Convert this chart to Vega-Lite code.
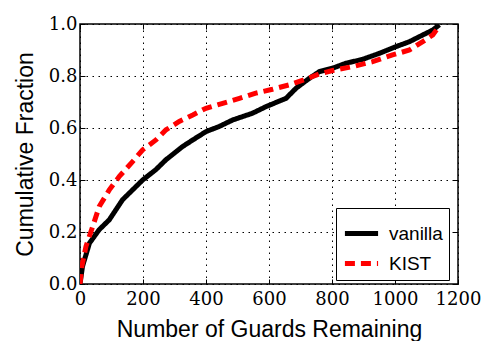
{
  "$schema": "https://vega.github.io/schema/vega-lite/v6.json",
  "width": 378,
  "height": 260,
  "autosize": "none",
  "padding": {"left": 80, "top": 24, "right": 24, "bottom": 57},
  "background": "white",
  "config": {
    "view": {"stroke": "black", "strokeWidth": 1.5}
  },
  "data": {
    "values": [
      {"g": 0, "f": 0, "s": "vanilla"},
      {"g": 8, "f": 0.068, "s": "vanilla"},
      {"g": 30, "f": 0.157, "s": "vanilla"},
      {"g": 61, "f": 0.209, "s": "vanilla"},
      {"g": 93, "f": 0.247, "s": "vanilla"},
      {"g": 135, "f": 0.324, "s": "vanilla"},
      {"g": 167, "f": 0.362, "s": "vanilla"},
      {"g": 199, "f": 0.4, "s": "vanilla"},
      {"g": 241, "f": 0.44, "s": "vanilla"},
      {"g": 273, "f": 0.478, "s": "vanilla"},
      {"g": 326, "f": 0.529, "s": "vanilla"},
      {"g": 358, "f": 0.554, "s": "vanilla"},
      {"g": 400, "f": 0.586, "s": "vanilla"},
      {"g": 442, "f": 0.606, "s": "vanilla"},
      {"g": 485, "f": 0.631, "s": "vanilla"},
      {"g": 548, "f": 0.657, "s": "vanilla"},
      {"g": 590, "f": 0.682, "s": "vanilla"},
      {"g": 654, "f": 0.714, "s": "vanilla"},
      {"g": 686, "f": 0.753, "s": "vanilla"},
      {"g": 728, "f": 0.791, "s": "vanilla"},
      {"g": 760, "f": 0.817, "s": "vanilla"},
      {"g": 802, "f": 0.83, "s": "vanilla"},
      {"g": 844, "f": 0.849, "s": "vanilla"},
      {"g": 897, "f": 0.864, "s": "vanilla"},
      {"g": 950, "f": 0.887, "s": "vanilla"},
      {"g": 1003, "f": 0.913, "s": "vanilla"},
      {"g": 1046, "f": 0.932, "s": "vanilla"},
      {"g": 1077, "f": 0.951, "s": "vanilla"},
      {"g": 1120, "f": 0.977, "s": "vanilla"},
      {"g": 1141, "f": 0.997, "s": "vanilla"},
      {"g": 0, "f": 0, "s": "KIST"},
      {"g": 6, "f": 0.068, "s": "KIST"},
      {"g": 19, "f": 0.145, "s": "KIST"},
      {"g": 40, "f": 0.22, "s": "KIST"},
      {"g": 61, "f": 0.298, "s": "KIST"},
      {"g": 93, "f": 0.362, "s": "KIST"},
      {"g": 125, "f": 0.414, "s": "KIST"},
      {"g": 167, "f": 0.471, "s": "KIST"},
      {"g": 199, "f": 0.516, "s": "KIST"},
      {"g": 241, "f": 0.554, "s": "KIST"},
      {"g": 273, "f": 0.593, "s": "KIST"},
      {"g": 315, "f": 0.625, "s": "KIST"},
      {"g": 358, "f": 0.65, "s": "KIST"},
      {"g": 400, "f": 0.676, "s": "KIST"},
      {"g": 453, "f": 0.695, "s": "KIST"},
      {"g": 506, "f": 0.714, "s": "KIST"},
      {"g": 558, "f": 0.734, "s": "KIST"},
      {"g": 611, "f": 0.749, "s": "KIST"},
      {"g": 664, "f": 0.766, "s": "KIST"},
      {"g": 717, "f": 0.788, "s": "KIST"},
      {"g": 760, "f": 0.808, "s": "KIST"},
      {"g": 802, "f": 0.821, "s": "KIST"},
      {"g": 865, "f": 0.836, "s": "KIST"},
      {"g": 929, "f": 0.855, "s": "KIST"},
      {"g": 992, "f": 0.881, "s": "KIST"},
      {"g": 1046, "f": 0.9, "s": "KIST"},
      {"g": 1088, "f": 0.932, "s": "KIST"},
      {"g": 1120, "f": 0.958, "s": "KIST"},
      {"g": 1135, "f": 0.983, "s": "KIST"}
    ]
  },
  "layer": [
    {
      "mark": {"type": "line", "strokeWidth": 5, "clip": true},
      "encoding": {
        "x": {"field": "g", "type": "quantitative", "scale": {"domain": [0, 1200], "nice": false, "zero": false},
              "axis": {"title": "Number of Guards Remaining", "values": [0, 200, 400, 600, 800, 1000, 1200], "format": "d",
                       "grid": true, "gridColor": "black", "gridDash": [1.5, 4.5], "gridOpacity": 1, "gridWidth": 1,
                       "domain": false, "ticks": true, "tickColor": "black", "tickSize": -5, "tickWidth": 1,
                       "labelFont": "DejaVu Serif", "labelFontSize": 18, "labelColor": "black", "labelPadding": 11, "labelBaseline": "top",
                       "titleFont": "Liberation Sans", "titleFontSize": 23, "titleFontWeight": "normal", "titleColor": "black", "titlePadding": 10,
                       "labelFlush": false, "labelOverlap": false}},
        "y": {"field": "f", "type": "quantitative", "scale": {"domain": [0, 1], "nice": false},
              "axis": {"title": "Cumulative Fraction", "values": [0, 0.2, 0.4, 0.6, 0.8, 1.0], "format": ".1f",
                       "grid": true, "gridColor": "black", "gridDash": [1.5, 4.5], "gridOpacity": 1, "gridWidth": 1,
                       "domain": false, "ticks": true, "tickColor": "black", "tickSize": -5, "tickWidth": 1,
                       "labelFont": "DejaVu Serif", "labelFontSize": 18, "labelColor": "black", "labelPadding": 8,
                       "titleFont": "Liberation Sans", "titleFontSize": 23, "titleFontWeight": "normal", "titleColor": "black", "titlePadding": 11,
                       "labelFlush": false, "labelOverlap": false}},
        "color": {"field": "s", "type": "nominal", "scale": {"domain": ["vanilla", "KIST"], "range": ["black", "#ff0000"]},
                  "legend": {"title": null, "orient": "none", "legendX": 256, "legendY": 184, "symbolType": "stroke", "symbolSize": 1100, "symbolStrokeWidth": 5, "labelFont": "Liberation Sans", "labelFontSize": 19, "labelColor": "black", "labelOffset": 8, "strokeColor": "black", "fillColor": "white", "padding": 6, "rowPadding": 0}},
        "strokeDash": {"field": "s", "type": "nominal", "scale": {"domain": ["vanilla", "KIST"], "range": [[1, 0], [10, 6]]}, "legend": null}
      }
    },
    {
      "mark": {"type": "point", "opacity": 0},
      "encoding": {
        "x": {"field": "g", "type": "quantitative", "axis": {"orient": "top", "labels": false, "title": null, "grid": false, "domain": false, "tickColor": "black", "tickSize": -5, "values": [0, 200, 400, 600, 800, 1000, 1200]}},
        "y": {"field": "f", "type": "quantitative", "axis": {"orient": "right", "labels": false, "title": null, "grid": false, "domain": false, "tickColor": "black", "tickSize": -5, "values": [0, 0.2, 0.4, 0.6, 0.8, 1.0]}}
      }
    }
  ],
  "resolve": {"axis": {"x": "independent", "y": "independent"}}
}
